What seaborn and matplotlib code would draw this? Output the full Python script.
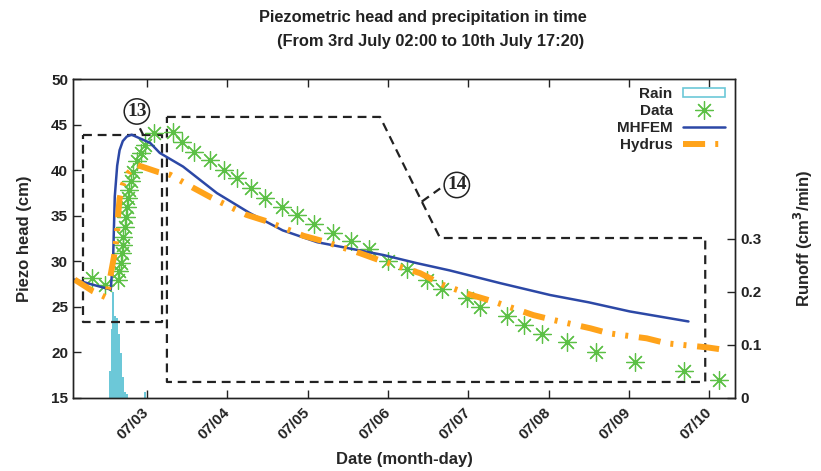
import numpy as np
import seaborn as sns
import matplotlib.pyplot as plt
from matplotlib.lines import Line2D
from matplotlib.patches import Patch

# time in days of July (3.0 = 07/03 00:00)
mhfem_t = [2.10, 2.30, 2.55, 2.58, 2.60, 2.63, 2.66, 2.70, 2.75, 2.81, 3.04, 3.16, 3.45,
           3.87, 4.28, 4.69, 5.12, 5.53, 5.94, 6.36, 6.77, 7.40, 8.02, 8.50, 9.01, 9.74]
mhfem_h = [28.0, 27.5, 26.9, 30.5, 37.1, 40.5, 42.2, 43.2, 43.7, 43.9, 43.0, 41.9, 40.4,
           37.5, 35.3, 33.4, 32.1, 31.4, 30.7, 29.8, 29.0, 27.6, 26.3, 25.5, 24.5, 23.4]

hydrus_t = [2.10, 2.33, 2.50, 2.54, 2.59, 2.61, 2.63, 2.64, 2.66, 2.70, 2.77, 2.87, 3.14,
            3.29, 3.57, 3.80, 4.24, 4.49, 4.95, 5.20, 5.65, 5.90, 6.15, 6.40, 6.69, 7.04,
            7.31, 7.81, 8.04, 8.52, 8.75, 9.22, 9.47, 9.97, 10.20]
hydrus_h = [28.0, 26.7, 26.0, 28.1, 30.5, 31.8, 33.3, 34.9, 36.9, 38.4, 39.7, 40.6, 39.8,
            39.5, 38.1, 37.0, 35.1, 34.4, 32.8, 32.2, 30.9, 30.1, 29.4, 28.7, 27.4, 26.3,
            25.6, 24.1, 23.6, 22.65, 22.1, 21.55, 21.0, 20.56, 20.27]

data_t = [2.311, 2.477, 2.643, 2.655, 2.672, 2.685, 2.697, 2.705, 2.726, 2.737, 2.747,
          2.767, 2.780, 2.804, 2.826, 2.872, 2.922, 2.975, 3.087, 3.328, 3.436, 3.585,
          3.785, 3.959, 4.121, 4.295, 4.473, 4.677, 4.864, 5.083, 5.313, 5.537, 5.768,
          6.005, 6.234, 6.483, 6.670, 6.981, 7.147, 7.479, 7.695, 7.919, 8.227, 8.591,
          9.077, 9.687, 10.123]
data_h = [28.2, 27.4, 28.0, 28.9, 29.8, 30.9, 31.8, 32.7, 33.8, 34.9, 36.0,
          37.0, 37.8, 38.8, 39.8, 41.0, 41.9, 42.8, 44.1, 44.2, 43.1, 42.0,
          41.1, 40.0, 39.1, 38.1, 37.0, 36.0, 35.1, 34.1, 33.1, 32.2, 31.3,
          30.0, 29.2, 28.0, 27.0, 26.0, 25.0, 24.0, 23.0, 22.0, 21.1, 20.0,
          19.0, 18.0, 17.0]

rain_t = [2.539, 2.564, 2.583, 2.600, 2.626, 2.651, 2.676, 2.700, 2.726, 2.751, 2.975]
rain_q = [0.05, 0.13, 0.20, 0.155, 0.15, 0.12, 0.085, 0.04, 0.012, 0.008, 0.012]

day_ticks = [3, 4, 5, 6, 7, 8, 9, 10]
day_labels = ['07/03', '07/04', '07/05', '07/06', '07/07', '07/08', '07/09', '07/10']

# annotation outlines (data coords)
box13_t = [2.203, 3.187, 3.187, 2.203, 2.203]
box13_h = [43.87, 43.87, 23.34, 23.34, 43.87]
box14_t = [3.249, 5.902, 6.425, 6.649, 9.949, 9.949, 3.249, 3.249]
box14_h = [45.85, 45.85, 36.5, 32.56, 32.56, 16.76, 16.76, 45.85]

sns.set_theme(style='ticks')
plt.rcParams['font.family'] = ['Liberation Sans', 'DejaVu Sans']
plt.rcParams['font.weight'] = 'bold'
plt.rcParams['font.size'] = 11

c_rain = '#6cc8d8'
c_data = '#5cc046'
c_mhfem = '#2c48a6'
c_hydrus = '#ffa31a'

fig = plt.figure(figsize=(8.21, 4.71), dpi=100)
ax = fig.add_axes([0.0889, 0.155, 0.8064, 0.677])
ax2 = ax.twinx()

ax2.bar(rain_t, rain_q, width=0.026, color=c_rain, linewidth=0)
ax2.set_ylim(0, 0.6)
ax2.set_yticks([0, 0.1, 0.2, 0.3])
ax2.set_yticklabels(['0', '0.1', '0.2', '0.3'])
ax2.set_ylabel('Runoff (cm$^3$/min)', fontweight='bold', labelpad=22)

ax.set_zorder(ax2.get_zorder() + 1)
ax.patch.set_visible(False)

ax.plot(box13_t, box13_h, color='#222222', lw=1.6, dashes=(4, 2.6))
ax.plot(box14_t, box14_h, color='#222222', lw=1.6, dashes=(4, 2.6))
ax.plot([2.913, 2.954], [44.6, 43.87], color='#222222', lw=1.6, dashes=(4, 2.6))
ax.plot([6.42, 6.65], [36.55, 38.0], color='#222222', lw=1.6, dashes=(4, 2.6))
for txt, tx, ty in [('13', 2.875, 46.45), ('14', 6.857, 38.38)]:
    ax.text(tx, ty, txt, family='Liberation Serif', fontsize=14, fontweight='bold',
            ha='center', va='center',
            bbox=dict(boxstyle='circle,pad=0.15', fc='none', ec='#222222', lw=1.1))

sns.lineplot(x=data_t, y=data_h, ax=ax, linestyle='none', marker=(8, 2, 0),
             markersize=13, markeredgecolor=c_data, markeredgewidth=0.9, color=c_data)
sns.lineplot(x=mhfem_t, y=mhfem_h, ax=ax, color=c_mhfem, lw=1.8)
sns.lineplot(x=hydrus_t, y=hydrus_h, ax=ax, color=c_hydrus, lw=4.3)
ax.lines[-1].set_dashes((3.7, 1.7, 0.5, 1.7, 0.5, 1.8))

ax.set_xlim(2.08, 10.32)
ax.set_ylim(15, 50)
ax.set_yticks(range(15, 51, 5))
ax.set_xticks(day_ticks)
ax.set_xticklabels(day_labels, rotation=45, ha='right', va='center', rotation_mode='anchor')
ax.set_xlabel('Date (month-day)', fontweight='bold', labelpad=7)
ax.set_ylabel('Piezo head (cm)', fontweight='bold', labelpad=14)

ax.tick_params(axis='x', direction='in', top=True, length=6, width=1, pad=9, colors='#222222')
ax.tick_params(axis='y', direction='in', right=False, length=6, width=1, colors='#222222')
ax2.tick_params(axis='y', direction='in', length=6, width=1, colors='#222222')
for a in (ax, ax2):
    for s in a.spines.values():
        s.set_color('#222222')
        s.set_linewidth(1.0)

handles = [
    Patch(facecolor='white', edgecolor=c_rain, lw=1.2),
    Line2D([], [], linestyle='none', marker=(8, 2, 0), markersize=13,
           markeredgecolor=c_data, markeredgewidth=0.9),
    Line2D([], [], color=c_mhfem, lw=1.8),
    Line2D([], [], color=c_hydrus, lw=4.3, dashes=(3.7, 1.7, 0.5, 1.7, 0.5, 1.8)),
]
ax.legend(handles, ['Rain', 'Data', 'MHFEM', 'Hydrus'], loc='upper right',
          bbox_to_anchor=(0.99, 0.985), frameon=False, markerfirst=False,
          handlelength=2.8, handletextpad=0.65, labelspacing=0.2, borderaxespad=0,
          borderpad=0.2, handleheight=0.6)

fig.text(0.515, 0.962, 'Piezometric head and precipitation in time',
         ha='center', va='center', fontweight='bold', fontsize=11.8, color='#222222')
fig.text(0.524, 0.912, '(From 3rd July 02:00 to 10th July 17:20)',
         ha='center', va='center', fontweight='bold', fontsize=11.8, color='#222222')

fig.savefig('out.png', dpi=100)
